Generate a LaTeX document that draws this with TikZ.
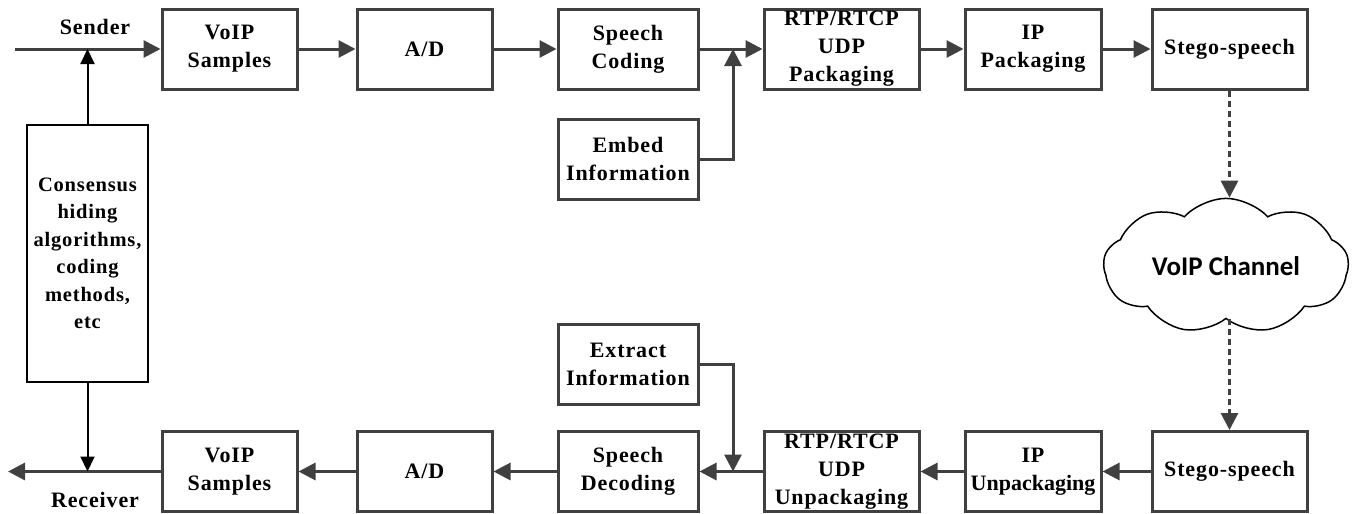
\documentclass[tikz,border=0pt]{standalone}
\usepackage{fontspec}
\setmainfont[LetterSpace=4]{Liberation Serif}
\newfontfamily\tightserif{Liberation Serif}
\newfontfamily\cloudfont{Carlito}
\usetikzlibrary{shapes.symbols,arrows.meta}
\definecolor{dg}{HTML}{404040}
\tikzset{
  box/.style={draw=dg, line width=3pt, minimum height=80pt, inner sep=0pt, align=center,
    font=\fontsize{22}{28}\selectfont\bfseries},
  flow/.style={draw=dg, line width=3pt, -{Triangle[length=17pt,width=17pt]}},
  dflow/.style={draw=dg, line width=3pt, dash pattern=on 6pt off 4pt, -{Triangle[length=17pt,width=17pt]}},
  cflow/.style={draw=black, line width=2pt, -{Triangle[length=15pt,width=14pt]}},
  lbl/.style={font=\fontsize{22}{28}\selectfont\bfseries, inner sep=0pt},
}
\begin{document}
\begin{tikzpicture}[x=1pt,y=-1pt]
\useasboundingbox (0,0) rectangle (1353,514);
% top row
\node[box, minimum width=135pt] (vs) at (229.5,49) {VoIP\\Samples};
\node[box, minimum width=135pt] (ad) at (424.5,49) {A/D};
\node[box, minimum width=140pt] (sc) at (628,49) {Speech\\Coding};
\node[box, minimum width=155pt] (rtp) at (841.5,49) {RTP/RTCP\\UDP\\Packaging};
\node[box, minimum width=136pt] (ipp) at (1033,49) {IP\\Packaging};
\node[box, minimum width=155pt] (st) at (1229.5,49) {Stego-speech};
\node[box, minimum width=140pt] (em) at (628,159) {Embed\\Information};
% bottom row
\node[box, minimum width=135pt] (vr) at (229.5,471.5) {VoIP\\Samples};
\node[box, minimum width=135pt] (da) at (424.5,471.5) {A/D};
\node[box, minimum width=140pt] (sd) at (628,471.5) {Speech\\Decoding};
\node[box, minimum width=155pt] (rtpu) at (841.5,471.5) {RTP/RTCP\\UDP\\Unpackaging};
\node[box, minimum width=136pt] (ipu) at (1033,471.5) {IP\\{\tightserif\bfseries Unpackaging}};
\node[box, minimum width=155pt] (sr) at (1229.5,471.5) {Stego-speech};
\node[box, minimum width=140pt] (ex) at (628,364) {Extract\\Information};
% consensus
\node[draw=black, line width=2pt, minimum width=121pt, minimum height=257pt, inner sep=0pt, align=center,
  font=\fontsize{20.5}{27.5}\selectfont\bfseries] (cons) at (87.5,253.5)
  {Consensus\\hiding\\algorithms,\\coding\\methods,\\etc};
% cloud
\node[cloud, cloud puffs=9, cloud puff arc=95, aspect=1.9, draw=black, line width=1.5pt,
  minimum width=245pt, minimum height=132pt, inner sep=0pt,
  font=\cloudfont\bfseries\fontsize{27}{30}\selectfont] (cl) at (1226,266) {VoIP Channel};
% labels
\node[lbl] (snd) at (95,27) {Sender};
\node[lbl] (rcv) at (95,500) {Receiver};
% coordinates
\coordinate (sstart) at (15,49);
\coordinate (rend) at (8,471.5);
\coordinate (j1) at (733,49);
\coordinate (j2) at (733,471.5);
% top flow
\draw[flow] (sstart) -- (vs.west);
\draw[flow] (vs.east) -- (ad.west);
\draw[flow] (ad.east) -- (sc.west);
\draw[flow] (sc.east) -- (rtp.west);
\draw[flow] (rtp.east) -- (ipp.west);
\draw[flow] (ipp.east) -- (st.west);
\draw[flow] (em.east) -| (j1);
% bottom flow
\draw[flow] (sr.west) -- (ipu.east);
\draw[flow] (ipu.west) -- (rtpu.east);
\draw[flow] (rtpu.west) -- (sd.east);
\draw[flow] (sd.west) -- (da.east);
\draw[flow] (da.west) -- (vr.east);
\draw[flow] (vr.west) -- (rend);
\draw[flow] (ex.east) -| (j2);
% channel
\draw[dflow] (st.south) -- (st.south |- cl.north);
\draw[dflow] (sr.north |- cl.south) -- (sr.north);
% consensus arrows
\draw[cflow] (cons.north) -- (cons.north |- sstart);
\draw[cflow] (cons.south) -- (cons.south |- rend);
\end{tikzpicture}
\end{document}
